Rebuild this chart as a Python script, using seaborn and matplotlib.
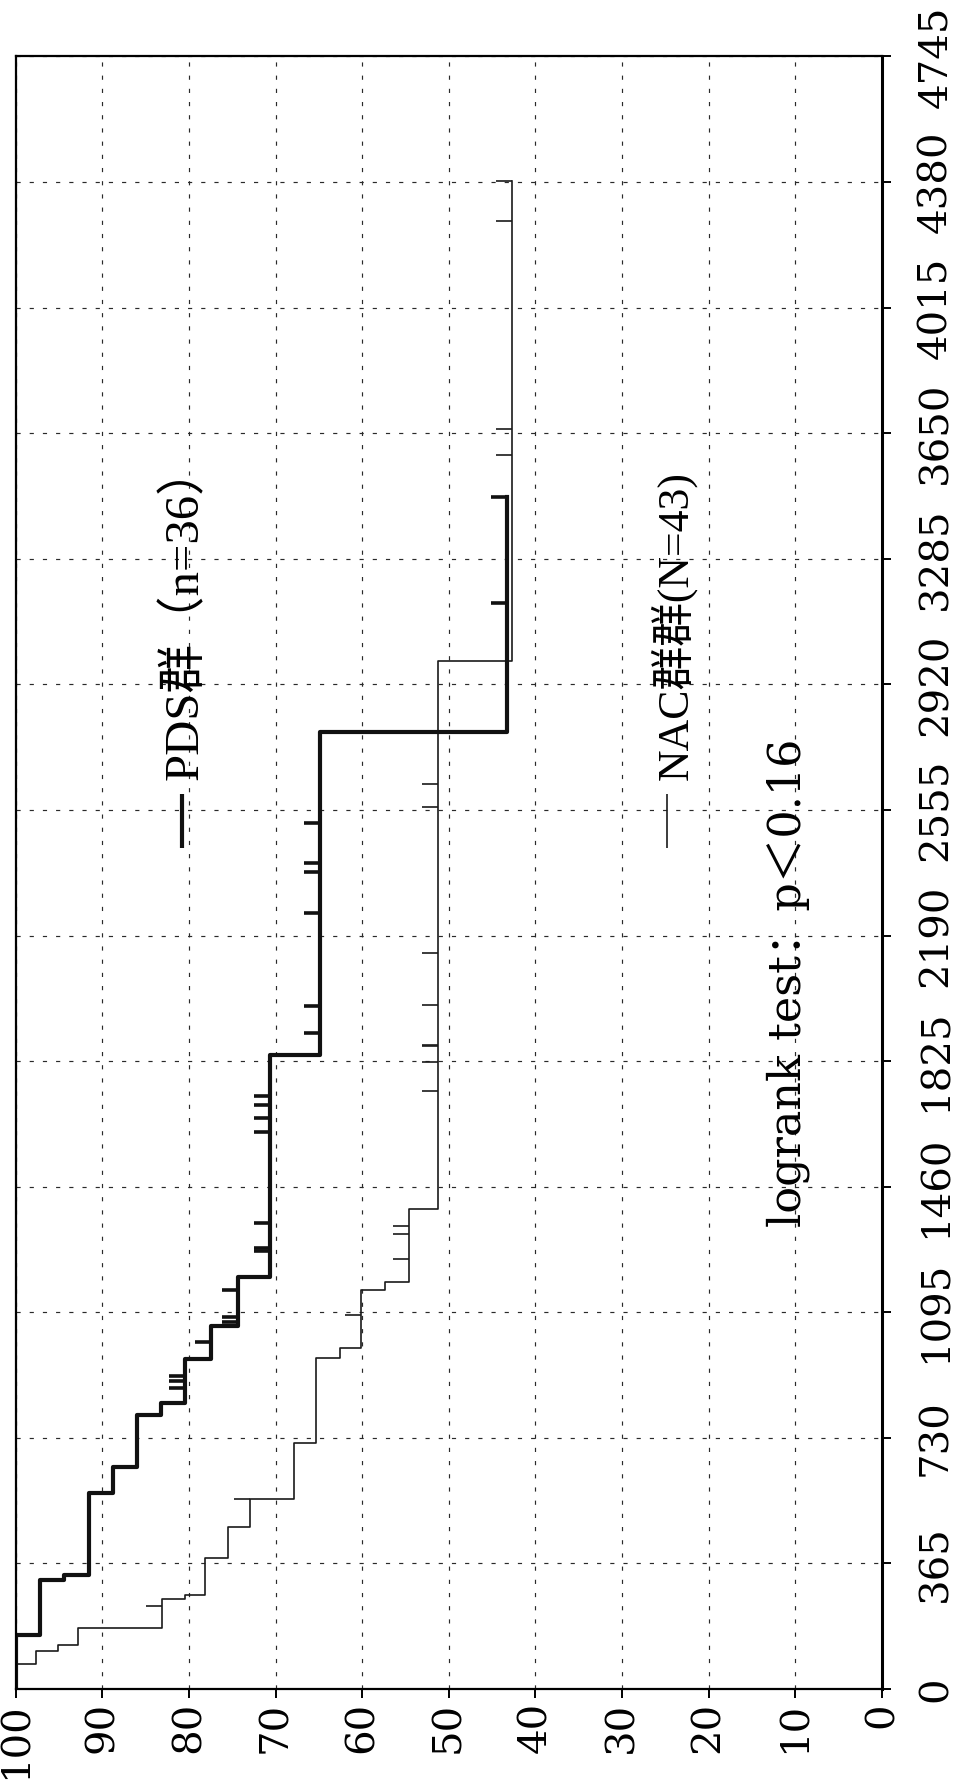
import numpy as np
import pandas as pd
import matplotlib
matplotlib.use("Agg")
import matplotlib.pyplot as plt
import seaborn as sns
from matplotlib.lines import Line2D

# ---------------- data ----------------
pds_event_days = [157, 317, 332, 571, 644, 795, 830, 960, 1055, 1197, 1844, 2783]
pds_survival = [97.2, 94.4, 91.5, 88.8, 86.0, 83.2, 80.5, 77.5, 74.3, 70.6, 64.9, 43.3]
pds_last_day = 3466
pds_censor_days = [876, 895, 909, 1008, 1066, 1080, 1159, 1274, 1283, 1354,
                   1619, 1661, 1697, 1724, 1907, 1985, 2255, 2375, 2401, 2517,
                   3157, 3466]

nac_event_days = [72, 109, 128, 177, 261, 274, 382, 470, 553, 715, 961, 990,
                  1161, 1183, 1396, 2987]
nac_survival = [97.6, 95.1, 92.8, 83.1, 80.5, 78.1, 75.5, 73.0, 67.9, 65.3,
                62.6, 60.1, 57.4, 54.6, 51.2, 42.7]
nac_last_day = 4383
nac_censor_days = [242, 553, 1087, 1249, 1322, 1346, 1739, 1823, 1868, 1872,
                   1987, 2139, 2565, 2630, 3587, 3663, 4267, 4383]

survival_ticks = [0, 10, 20, 30, 40, 50, 60, 70, 80, 90, 100]
day_ticks = [0, 365, 730, 1095, 1460, 1825, 2190, 2555, 2920, 3285, 3650,
             4015, 4380, 4745]

pds_label = "PDS群（n=36）"
nac_label = "NAC群群(N=43)"
test_label = "logrank test：p＜0.16"


def km_path(days, surv, last):
    ts, ss = [0], [100.0]
    prev = 100.0
    for d, s in zip(days, surv):
        ts += [d, d]
        ss += [prev, s]
        prev = s
    ts.append(last)
    ss.append(prev)
    return pd.DataFrame({"day": ts, "survival": ss})


def surv_at(days, surv, t):
    prev = 100.0
    for d, s in zip(days, surv):
        if d < t:
            prev = s
    return prev


pds_df = km_path(pds_event_days, pds_survival, pds_last_day)
nac_df = km_path(nac_event_days, nac_survival, nac_last_day)

plt.rcParams["lines.scale_dashes"] = False
serif_cjk = ["DejaVu Serif", "Noto Sans CJK SC"]
times_cjk = ["Liberation Serif", "Noto Sans CJK SC"]

W, H = 958, 1785
fig = plt.figure(figsize=(W / 100, H / 100), dpi=100)
fig.patch.set_facecolor("white")
L, R, T, B = 15.7, 882.0, 56.5, 1689.0
ax = fig.add_axes([L / W, (H - B) / H, (R - L) / W, (B - T) / H])

sns.lineplot(data=nac_df, x="survival", y="day", sort=False, estimator=None,
             color="#1a1a1a", linewidth=1.2, ax=ax)
sns.lineplot(data=pds_df, x="survival", y="day", sort=False, estimator=None,
             color="#111111", linewidth=3.0, ax=ax)

tick_len = 1.85
nac_cs = [surv_at(nac_event_days, nac_survival, t) for t in nac_censor_days]
ax.hlines(nac_censor_days, nac_cs, [s + tick_len for s in nac_cs],
          color="#1a1a1a", linewidth=1.2)
pds_cs = [surv_at(pds_event_days, pds_survival, t) for t in pds_censor_days]
ax.hlines(pds_censor_days, pds_cs, [s + tick_len for s in pds_cs],
          color="#111111", linewidth=2.6)

ax.set_xlim(100, 0)
ax.set_ylim(0, 4745)
ax.set_xlabel("")
ax.set_ylabel("")

ax.set_xticks(survival_ticks)
ax.set_xticklabels([str(v) for v in survival_ticks], rotation=90,
                   fontfamily="DejaVu Serif", fontsize=29)
ax.yaxis.tick_right()
ax.set_yticks(day_ticks)
ax.set_yticklabels([str(v) for v in day_ticks], rotation=90, va="center",
                   fontfamily="DejaVu Serif", fontsize=29)
ax.tick_params(axis="x", direction="out", length=6.5, width=1.4, pad=3)
ax.tick_params(axis="y", direction="out", length=6.5, width=1.4, pad=19)

ax.grid(True, linestyle=(0, (3, 6.5)), color="#2a2a2a", linewidth=0.85)
for sp in ax.spines.values():
    sp.set_visible(True)
    sp.set_color("black")
    sp.set_linewidth(1.6)
ax.spines["right"].set_linewidth(2.2)
ax.set_facecolor("white")

# legend-like labels (rotated like the whole chart)
fig.text(185 / W, (H - 780) / H, pds_label, rotation=90, ha="center",
         va="bottom", family=times_cjk, fontsize=35)
fig.add_artist(Line2D([182 / W, 182 / W], [(H - 794) / H, (H - 848) / H],
                      transform=fig.transFigure, color="#111111", linewidth=3.0,
                      solid_capstyle="butt"))
fig.text(673 / W, (H - 780) / H, nac_label, rotation=90, ha="center",
         va="bottom", family=times_cjk, fontsize=31.5)
fig.add_artist(Line2D([667 / W, 667 / W], [(H - 794) / H, (H - 848) / H],
                      transform=fig.transFigure, color="#1a1a1a", linewidth=1.2,
                      solid_capstyle="butt"))
fig.text(788 / W, (H - 1227) / H, test_label, rotation=90, ha="center",
         va="bottom", family=serif_cjk, fontsize=32)

fig.savefig("out.png", dpi=100, facecolor="white")
